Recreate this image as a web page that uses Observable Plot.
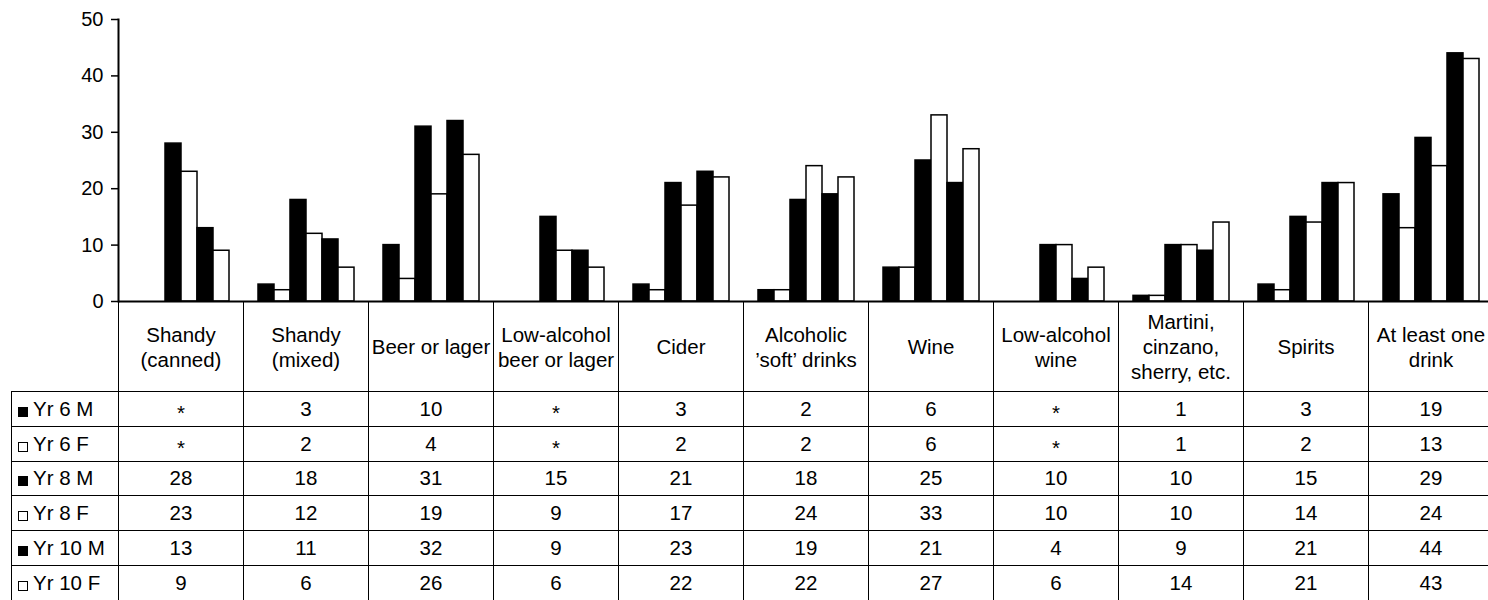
<!DOCTYPE html>
<html>
<head>
<meta charset="utf-8">
<script src="https://cdn.jsdelivr.net/npm/d3@7"></script>
<script src="https://cdn.jsdelivr.net/npm/@observablehq/plot@0.6"></script>
<style>
html, body { margin: 0; padding: 0; background: #fff; overflow: hidden; width: 1488px; height: 600px; }
#wrap { position: relative; width: 1494px; height: 600px; }
#chart svg { display: block; }
table { position: absolute; border-collapse: collapse; table-layout: fixed;
  font-family: "Liberation Sans", Arial, sans-serif; font-size: 20.5px; color: #000; }
td { border: 1.5px solid #000; padding: 0; text-align: center; vertical-align: middle; overflow: hidden; white-space: nowrap; }
tr.head td { line-height: 25px; white-space: pre-line; }
td.corner { border-top: none; border-left: none; }
td.lab { text-align: left; padding-left: 6px; }
.sw { display: inline-block; width: 10px; height: 10px; box-sizing: border-box; border: 1px solid #000; margin-right: 5px; vertical-align: -1px; }
.sw.m { background: #000; }
.sw.f { background: #fff; }
.miss { position: relative; top: 4px; }
</style>
</head>
<body>
<div id="wrap"><div id="chart"></div></div>
<script>
// ---- data ----
const categories = [
  "Shandy\n(canned)", "Shandy\n(mixed)", "Beer or lager", "Low-alcohol\nbeer or lager",
  "Cider", "Alcoholic\n’soft’ drinks", "Wine", "Low-alcohol\nwine",
  "Martini,\ncinzano,\nsherry, etc.", "Spirits", "At least one\ndrink"
];
const series = ["Yr 6 M", "Yr 6 F", "Yr 8 M", "Yr 8 F", "Yr 10 M", "Yr 10 F"];
const yr6M  = [null, 3, 10, null, 3, 2, 6, null, 1, 3, 19];
const yr6F  = [null, 2, 4, null, 2, 2, 6, null, 1, 2, 13];
const yr8M  = [28, 18, 31, 15, 21, 18, 25, 10, 10, 15, 29];
const yr8F  = [23, 12, 19, 9, 17, 24, 33, 10, 10, 14, 24];
const yr10M = [13, 11, 32, 9, 23, 19, 21, 4, 9, 21, 44];
const yr10F = [9, 6, 26, 6, 22, 22, 27, 6, 14, 21, 43];
const yTicks = [0, 10, 20, 30, 40, 50];
const missingLabel = "*";

const seriesValues = [yr6M, yr6F, yr8M, yr8F, yr10M, yr10F];
const data = [];
series.forEach((s, j) => categories.forEach((c, i) => {
  data.push({category: c, series: s, value: seriesValues[j][i]});
}));
const isMale = s => s.endsWith("M");

// ---- chart ----
const chart = Plot.plot({
  width: 1494,
  height: 302,
  marginLeft: 117,
  marginRight: 0,
  marginTop: 19,
  marginBottom: 1,
  style: {fontFamily: "'Liberation Sans', Arial, sans-serif", fontSize: "20px", color: "#000", background: "#fff", overflow: "visible"},
  fx: {domain: categories, padding: 0, axis: null},
  x: {domain: series, paddingInner: 0, paddingOuter: 0.72, axis: null},
  y: {domain: [0, 50], axis: null},
  color: {domain: series, range: series.map(s => isMale(s) ? "#000" : "#fff")},
  marks: [
    Plot.barY(data.filter(d => d.value != null), {
      fx: "category", x: "series", y: "value", fill: "series",
      stroke: "#000", strokeWidth: 1.5
    }),
    Plot.ruleY([0], {stroke: "#000", strokeWidth: 2}),
    Plot.axisY({ticks: yTicks, label: null, tickSize: 7, tickPadding: 8, fontSize: 20, strokeWidth: 1.5, anchor: "left"}),
    Plot.frame({anchor: "left", facetAnchor: "left", stroke: "#000", strokeWidth: 2})
  ]
});
document.getElementById("chart").append(chart);

// ---- table below, aligned with the chart's fx scale ----
const fx = chart.scale("fx");
const yS = chart.scale("y");
const step = fx.step;
const x0 = fx.apply(categories[0]);
const tableLeft = 11;
const top0 = yS.apply(0);

const table = document.createElement("table");
table.style.left = tableLeft + "px";
table.style.top = top0 + "px";
table.style.width = (x0 - tableLeft + step * categories.length) + "px";
const cg = document.createElement("colgroup");
const c0 = document.createElement("col");
c0.style.width = (x0 - tableLeft) + "px";
cg.append(c0);
categories.forEach(() => { const c = document.createElement("col"); c.style.width = step + "px"; cg.append(c); });
table.append(cg);

const head = document.createElement("tr");
head.className = "head";
head.style.height = "90px";
const corner = document.createElement("td");
corner.className = "corner";
head.append(corner);
categories.forEach(c => { const td = document.createElement("td"); td.textContent = c; head.append(td); });
table.append(head);

series.forEach((s, j) => {
  const tr = document.createElement("tr");
  tr.style.height = "34.8px";
  const lab = document.createElement("td");
  lab.className = "lab";
  const sw = document.createElement("span");
  sw.className = "sw " + (isMale(s) ? "m" : "f");
  lab.append(sw, document.createTextNode(s));
  tr.append(lab);
  seriesValues[j].forEach(v => {
    const td = document.createElement("td");
    if (v == null) {
      const sp = document.createElement("span");
      sp.className = "miss";
      sp.textContent = missingLabel;
      td.append(sp);
    } else {
      td.textContent = String(v);
    }
    tr.append(td);
  });
  table.append(tr);
});
document.getElementById("wrap").append(table);
</script>
</body>
</html>
